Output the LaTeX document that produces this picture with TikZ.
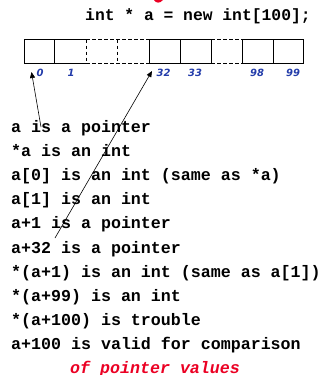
\documentclass[tikz,border=0pt]{standalone}
\usepackage{fontspec}
\setmonofont{Liberation Mono}
\newfontfamily\labelfont{DejaVu Sans}
\usetikzlibrary{arrows.meta}
\definecolor{idxblue}{RGB}{35,60,170}
\definecolor{hotred}{RGB}{235,0,35}
\tikzset{
  code/.style={anchor=base west, inner sep=0pt, font=\fontsize{16.7}{18}\ttfamily\bfseries},
  idx/.style={anchor=base west, inner sep=0pt, text=idxblue, font=\fontsize{10}{11}\labelfont\bfseries\itshape},
  cell/.style={draw, line width=0.8bp},
  gap/.style={draw, line width=0.8bp, dash pattern=on 3.5bp off 2.5bp},
  ptr/.style={line width=0.6bp, -{Triangle[length=6bp,width=5bp]}}
}
\begin{document}
\begin{tikzpicture}[x=1bp,y=-1bp]
\useasboundingbox (0,0) rectangle (320,375);

% tail of the red heading above
\fill[hotred] (154,0) .. controls (156,3.5) and (160,3.5) .. (163,0) -- cycle;

\node[code, font=\fontsize{16.4}{18}\ttfamily\bfseries] (decl) at (85,20) {int * a = new int[100];};

% the array: solid cells and elided (dashed) runs
\draw[cell] (24,39.5) rectangle (54.5,63);
\draw[cell] (54.5,39.5) -- (86,39.5);
\draw[cell] (54.5,63) -- (86,63);
\draw[gap] (86,39.5) -- (149,39.5);
\draw[gap] (86,63) -- (149,63);
\draw[gap] (86,39.5) -- (86,63);
\draw[gap] (117.5,39.5) -- (117.5,63);
\draw[cell] (149,39.5) rectangle (180,63);
\draw[cell] (180,39.5) rectangle (211,63);
\draw[gap] (211,39.5) -- (242,39.5);
\draw[gap] (211,63) -- (242,63);
\draw[gap] (211,39.5) -- (211,63);
\draw[cell] (242,39.5) rectangle (273,63);
\draw[cell] (273,39.5) rectangle (303,63);

% element indices
\node[idx] (i0)  at (36.5,76) {0};
\node[idx] (i1)  at (67.5,76) {1};
\node[idx] (i32) at (156.5,76) {32};
\node[idx] (i33) at (188,76) {33};
\node[idx] (i98) at (250,76) {98};
\node[idx] (i99) at (286,76) {99};

% statements
\node[code] (l1)  at (11,132)   {a is a pointer};
\node[code] (l2)  at (11,156.2) {*a is an int};
\node[code] (l3)  at (11,180.4) {a[0] is an int (same as *a)};
\node[code] (l4)  at (11,204.6) {a[1] is an int};
\node[code] (l5)  at (11,228.8) {a+1 is a pointer};
\node[code] (l6)  at (11,253)   {a+32 is a pointer};
\node[code] (l7)  at (11,277.2) {*(a+1) is an int (same as a[1])};
\node[code] (l8)  at (11,301.4) {*(a+99) is an int};
\node[code] (l9)  at (11,325.6) {*(a+100) is trouble};
\node[code] (l10) at (11,349.8) {a+100 is valid for comparison};
\node[code, text=hotred, font=\fontsize{16.7}{18}\ttfamily\bfseries\itshape] (l11) at (70,373) {of pointer values};

% pointers into the array
\coordinate (t0)  at (41,127);
\coordinate (h0)  at (31.5,72);
\coordinate (t32) at (55,238);
\coordinate (h32) at (152,71);
\draw[ptr] (t0) -- (h0);
\draw[ptr] (t32) -- (h32);
\end{tikzpicture}
\end{document}
